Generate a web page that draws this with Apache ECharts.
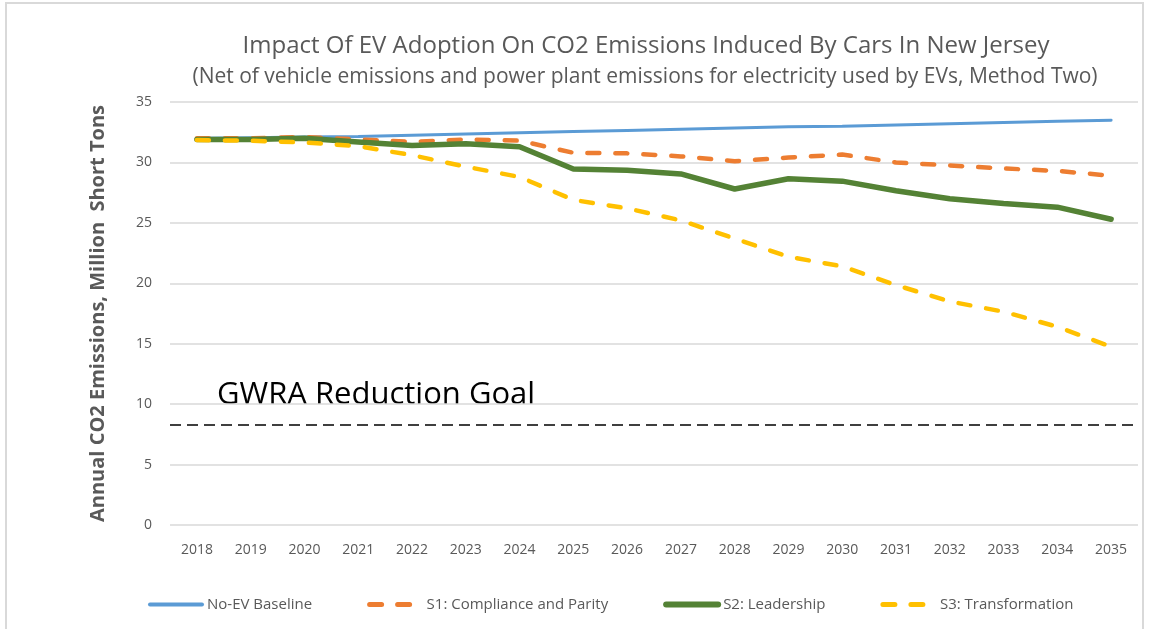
<!DOCTYPE html>
<html>
<head>
<meta charset="utf-8">
<title>EV Adoption CO2 Emissions NJ</title>
<script src="https://cdn.jsdelivr.net/npm/echarts@6/dist/echarts.min.js"></script>
<style>
  html, body { margin: 0; padding: 0; background: #fff; overflow: hidden; }
  #frame {
    position: absolute; left: 5px; top: 2px; width: 1139px; height: 660px;
    border: 2px solid #d9d9d9; box-sizing: border-box;
  }
  #main { position: absolute; left: 0; top: 0; width: 1152px; height: 629px; }
</style>
</head>
<body>
<div id="frame"></div>
<div id="main"></div>
<script>
// 数据
var years = ['2018', '2019', '2020', '2021', '2022', '2023', '2024', '2025', '2026',
  '2027', '2028', '2029', '2030', '2031', '2032', '2033', '2034', '2035'];

var baseline = [32.0, 32.05, 32.1, 32.15, 32.25, 32.35, 32.45, 32.55, 32.65,
  32.75, 32.85, 32.95, 33.0, 33.1, 33.2, 33.3, 33.4, 33.5];
var s1 = [32.0, 32.0, 32.1, 31.9, 31.7, 31.9, 31.8, 30.8, 30.75,
  30.5, 30.1, 30.4, 30.65, 30.0, 29.75, 29.5, 29.3, 28.9];
var s2 = [31.9, 31.9, 32.0, 31.7, 31.4, 31.55, 31.3, 29.45, 29.35,
  29.05, 27.8, 28.65, 28.45, 27.65, 27.0, 26.6, 26.3, 25.3];
var s3 = [31.85, 31.8, 31.65, 31.35, 30.6, 29.65, 28.8, 26.9, 26.2,
  25.2, 23.7, 22.2, 21.4, 19.85, 18.5, 17.65, 16.4, 14.75];

var goal = 8.3;
var yTicks = [0, 5, 10, 15, 20, 25, 30, 35];

var FONT = 'Open Sans';
var GRAY = '#595959';
var DASH = [12, 16];

var myChart = echarts.init(document.getElementById('main'), null, { renderer: 'canvas' });

myChart.setOption({
  animation: false,
  title: [
    {
      text: 'Impact Of EV Adoption On CO2 Emissions Induced By Cars In New Jersey',
      left: 641, top: 29, textAlign: 'center',
      textStyle: { fontFamily: FONT, fontSize: 24, fontWeight: 'normal', color: GRAY }
    },
    {
      text: '(Net of vehicle emissions and power plant emissions for electricity used by EVs, Method Two)',
      left: 640, top: 62, textAlign: 'center',
      textStyle: { fontFamily: FONT, fontSize: 21, fontWeight: 'normal', color: GRAY }
    }
  ],
  legend: {
    bottom: 12,
    left: 143,
    itemWidth: 52,
    itemHeight: 10,
    itemGap: 55,
    itemStyle: { opacity: 0 },
    textStyle: { fontFamily: FONT, fontSize: 15, color: GRAY },
    data: [
      { name: 'No-EV Baseline', lineStyle: { width: 4 } },
      { name: 'S1: Compliance and Parity', lineStyle: { width: 5, type: DASH } },
      { name: 'S2: Leadership', lineStyle: { width: 6 } },
      { name: 'S3: Transformation', lineStyle: { width: 5, type: DASH } }
    ]
  },
  grid: { left: 170, right: 14, top: 102, bottom: 104, containLabel: false },
  xAxis: {
    type: 'category',
    data: years,
    boundaryGap: true,
    axisLine: { show: false },
    axisTick: { show: false },
    axisLabel: { fontFamily: FONT, fontSize: 14, color: GRAY, margin: 18 }
  },
  yAxis: {
    type: 'value',
    min: yTicks[0],
    max: yTicks[yTicks.length - 1],
    interval: 5,
    name: 'Annual CO2 Emissions, Million  Short Tons',
    nameLocation: 'middle',
    nameGap: 62,
    nameTextStyle: { fontFamily: FONT, fontSize: 20, fontWeight: 'bold', color: GRAY },
    axisLine: { show: false },
    axisTick: { show: false },
    axisLabel: { fontFamily: FONT, fontSize: 14, color: GRAY, margin: 18 },
    splitLine: { lineStyle: { color: '#d9d9d9', width: 1.5 } }
  },
  graphic: [
    {
      type: 'text', left: 217, top: 380,
      style: { text: 'GWRA Reduction Goal', fontFamily: FONT, fontSize: 31, fill: '#000' }
    }
  ],
  series: [
    {
      name: 'No-EV Baseline',
      type: 'line',
      data: baseline,
      symbol: 'none',
      color: '#5B9BD5',
      lineStyle: { width: 3, cap: 'round' },
      z: 2,
      markLine: {
        silent: true,
        symbol: 'none',
        label: { show: false },
        lineStyle: { color: '#000', width: 1.5, type: [11, 6] },
        data: [{ yAxis: goal }]
      }
    },
    {
      name: 'S1: Compliance and Parity',
      type: 'line',
      data: s1,
      symbol: 'none',
      color: '#ED7D31',
      lineStyle: { width: 4.5, type: DASH, cap: 'round' },
      z: 3
    },
    {
      name: 'S2: Leadership',
      type: 'line',
      data: s2,
      symbol: 'none',
      color: '#548235',
      lineStyle: { width: 5.5, cap: 'round' },
      z: 4
    },
    {
      name: 'S3: Transformation',
      type: 'line',
      data: s3,
      symbol: 'none',
      color: '#FFC000',
      lineStyle: { width: 4.5, type: DASH, cap: 'round' },
      z: 5
    }
  ]
});

window.PieChart = myChart;
</script>
</body>
</html>
